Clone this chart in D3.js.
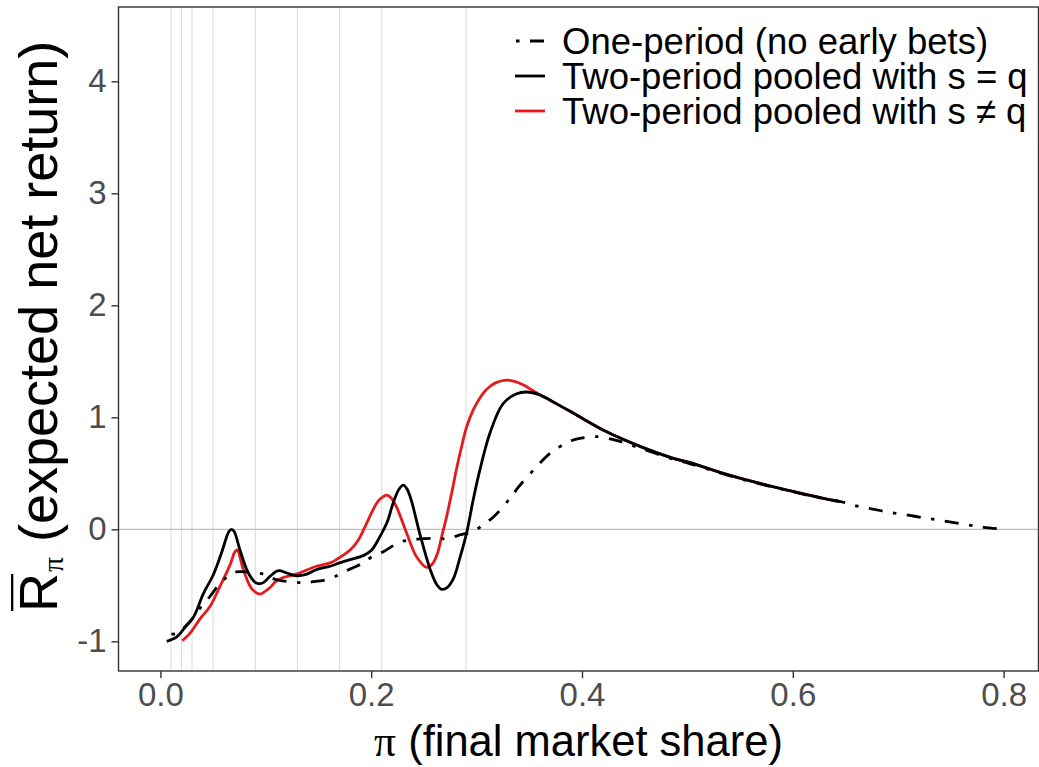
<!DOCTYPE html>
<html>
<head>
<meta charset="utf-8">
<script src="https://cdn.jsdelivr.net/npm/d3@7"></script>
<style>
  html, body { margin: 0; padding: 0; background: #fff; }
  svg { display: block; }
  text { white-space: pre; }
</style>
</head>
<body>
<svg id="chart" width="1039" height="767"></svg>
<script>
// Expected net return against final market share (pi)
const xTicks = [0.0, 0.2, 0.4, 0.6, 0.8];
const xTickLabels = ["0.0", "0.2", "0.4", "0.6", "0.8"];
const yTicks = [-1, 0, 1, 2, 3, 4];
const yTickLabels = ["-1", "0", "1", "2", "3", "4"];
const marketShares = [0.01, 0.02, 0.03, 0.05, 0.09, 0.13, 0.17, 0.21, 0.29];

const seriesNames = [
  "One-period (no early bets)",
  "Two-period pooled with s = q",
  "Two-period pooled with s \u2260 q"
];

// One-period (no early bets)
const onePeriodPi = [0.0105, 0.0155, 0.0233, 0.031, 0.0376, 0.047, 0.055, 0.0613, 0.067, 0.072, 0.082, 0.0976,
  0.110, 0.126, 0.1356, 0.145, 0.155, 0.164, 0.170, 0.180, 0.1925, 0.200, 0.2115, 0.227, 0.237, 0.246, 0.262,
  0.273, 0.284, 0.297, 0.306, 0.316, 0.332, 0.340, 0.357, 0.370, 0.3855, 0.3965, 0.41, 0.417, 0.43, 0.436,
  0.455, 0.4866, 0.5025, 0.534, 0.566, 0.597, 0.629, 0.646, 0.66, 0.672, 0.690, 0.708, 0.728, 0.744, 0.764,
  0.781, 0.800];
const onePeriodR = [-0.935, -0.93, -0.87, -0.79, -0.705, -0.60, -0.50, -0.44, -0.40, -0.38, -0.38, -0.40,
  -0.45, -0.47, -0.477, -0.468, -0.455, -0.43, -0.40, -0.355, -0.30, -0.25, -0.20, -0.115, -0.095, -0.085, -0.08,
  -0.085, -0.05, -0.02, 0.04, 0.11, 0.28, 0.38, 0.56, 0.68, 0.773, 0.81, 0.825, 0.827, 0.80, 0.785,
  0.725, 0.625, 0.585, 0.495, 0.412, 0.342, 0.274, 0.246, 0.21, 0.187, 0.155, 0.128, 0.097, 0.074, 0.042,
  0.018, 0.0];

// Two-period pooled with s = q
const pooledEqPi = [0.006, 0.0155, 0.023, 0.031, 0.041, 0.050, 0.058, 0.065, 0.0675, 0.070, 0.0755, 0.0834,
  0.091, 0.097, 0.104, 0.112, 0.120, 0.129, 0.139, 0.148, 0.161, 0.170, 0.180, 0.1925, 0.200, 0.208, 0.215,
  0.221, 0.2265, 0.2305, 0.234, 0.238, 0.246, 0.256, 0.262, 0.267, 0.272, 0.278, 0.284, 0.2906, 0.2965,
  0.3016, 0.3127, 0.325, 0.338, 0.3475, 0.36, 0.376, 0.392, 0.4234, 0.455, 0.4866, 0.5025, 0.534, 0.566,
  0.597, 0.629, 0.645];
const pooledEqR = [-1.0, -0.96, -0.88, -0.79, -0.57, -0.41, -0.21, -0.02, 0.0, -0.02, -0.185, -0.39,
  -0.48, -0.48, -0.42, -0.37, -0.39, -0.415, -0.40, -0.36, -0.33, -0.30, -0.27, -0.235, -0.19, -0.07, 0.06,
  0.24, 0.36, 0.395, 0.36, 0.26, -0.036, -0.36, -0.49, -0.536, -0.52, -0.44, -0.26, -0.03, 0.25,
  0.47, 0.86, 1.12, 1.21, 1.226, 1.2, 1.12, 1.036, 0.87, 0.74, 0.634, 0.595, 0.50, 0.416,
  0.345, 0.276, 0.246];

// Two-period pooled with s != q
const pooledNePi = [0.0208, 0.028, 0.0376, 0.047, 0.0565, 0.066, 0.0708, 0.073, 0.0755, 0.0787, 0.0866,
  0.0945, 0.100, 0.104, 0.110, 0.1166, 0.129, 0.148, 0.161, 0.167, 0.180, 0.1875, 0.194, 0.2005, 0.205,
  0.2084, 0.2147, 0.219, 0.224, 0.2337, 0.243, 0.2527, 0.258, 0.2627, 0.267, 0.2717, 0.2765, 0.281, 0.2858,
  0.2906, 0.297, 0.303, 0.308, 0.3127, 0.319, 0.3286, 0.336, 0.344, 0.36, 0.376, 0.392, 0.4234, 0.455, 0.4866,
  0.5025, 0.534, 0.566, 0.597, 0.629, 0.645];
const pooledNeR = [-0.995, -0.93, -0.80, -0.69, -0.51, -0.32, -0.20, -0.185, -0.25, -0.36, -0.53,
  -0.578, -0.55, -0.52, -0.46, -0.43, -0.40, -0.33, -0.30, -0.27, -0.185, -0.10, 0.02, 0.15, 0.23,
  0.27, 0.306, 0.28, 0.2, -0.036, -0.245, -0.34, -0.31, -0.22, -0.06, 0.12, 0.33, 0.54, 0.74,
  0.916, 1.07, 1.17, 1.235, 1.275, 1.312, 1.332, 1.32, 1.29, 1.2, 1.12, 1.036, 0.87, 0.74, 0.634,
  0.595, 0.50, 0.416, 0.345, 0.276, 0.246];

const W = 1039, H = 767;
const panel = { left: 118.5, right: 1038.5, top: 7, bottom: 671 };

const x = d3.scaleLinear().domain([-0.03975, 0.8331]).range([panel.left, panel.right]);
const y = d3.scaleLinear().domain([-1.2652, 4.6634]).range([panel.bottom, panel.top]);

const svg = d3.select("#chart");
const FONT = "'Liberation Sans', Arial, Helvetica, sans-serif";
const SERIF = "'Liberation Serif', 'DejaVu Serif', serif";

svg.append("rect").attr("width", W).attr("height", H).attr("fill", "#fff");

svg.append("clipPath").attr("id", "panel-clip")
  .append("rect")
  .attr("x", panel.left).attr("y", panel.top)
  .attr("width", panel.right - panel.left).attr("height", panel.bottom - panel.top);

const plot = svg.append("g").attr("clip-path", "url(#panel-clip)");

// reference market shares
plot.selectAll("line.vref").data(marketShares).join("line")
  .attr("class", "vref")
  .attr("x1", d => x(d)).attr("x2", d => x(d))
  .attr("y1", panel.top).attr("y2", panel.bottom)
  .attr("stroke", "#dcdcdc").attr("stroke-width", 1.1);

// break-even line
plot.append("line")
  .attr("x1", panel.left).attr("x2", panel.right)
  .attr("y1", y(0)).attr("y2", y(0))
  .attr("stroke", "#bebebe").attr("stroke-width", 1.3);

const zipSeries = (xs, ys) => xs.map((v, i) => [v, ys[i]]);
const line = d3.line().x(d => x(d[0])).y(d => y(d[1])).curve(d3.curveCatmullRom.alpha(0.5));

const LW = 2.8;
const DOTDASH = "3.5,10.5,14,10.5";

plot.append("path").datum(zipSeries(pooledNePi, pooledNeR))
  .attr("d", line).attr("fill", "none")
  .attr("stroke", "#e41a1c").attr("stroke-width", LW).attr("stroke-linejoin", "round");

plot.append("path").datum(zipSeries(pooledEqPi, pooledEqR))
  .attr("d", line).attr("fill", "none")
  .attr("stroke", "#000").attr("stroke-width", LW).attr("stroke-linejoin", "round");

plot.append("path").datum(zipSeries(onePeriodPi, onePeriodR))
  .attr("d", line).attr("fill", "none")
  .attr("stroke", "#000").attr("stroke-width", LW)
  .attr("stroke-dasharray", DOTDASH);

// panel border
svg.append("rect")
  .attr("x", panel.left).attr("y", panel.top)
  .attr("width", panel.right - panel.left).attr("height", panel.bottom - panel.top)
  .attr("fill", "none").attr("stroke", "#333").attr("stroke-width", 1.4);

// axes
const xAxis = d3.axisBottom(x).tickValues(xTicks)
  .tickFormat((d, i) => xTickLabels[i]).tickSize(7).tickPadding(5);
const gx = svg.append("g").attr("transform", `translate(0,${panel.bottom})`).call(xAxis);
gx.select(".domain").remove();
gx.selectAll(".tick line").attr("stroke", "#333").attr("stroke-width", 1.4);
gx.selectAll(".tick text").attr("fill", "#4d4d4d")
  .style("font-family", FONT).style("font-size", "33px");

const yAxis = d3.axisLeft(y).tickValues(yTicks)
  .tickFormat((d, i) => yTickLabels[i]).tickSize(7).tickPadding(5);
const gy = svg.append("g").attr("transform", `translate(${panel.left},0)`).call(yAxis);
gy.select(".domain").remove();
gy.selectAll(".tick line").attr("stroke", "#333").attr("stroke-width", 1.4);
gy.selectAll(".tick text").attr("fill", "#4d4d4d")
  .style("font-family", FONT).style("font-size", "33px");

// x axis title
const xt = svg.append("text")
  .attr("x", (panel.left + panel.right) / 2).attr("y", 756)
  .attr("text-anchor", "middle")
  .style("font-family", FONT).style("font-size", "43.5px").attr("fill", "#000");
xt.append("tspan").style("font-family", SERIF).text("\u03c0");
xt.append("tspan").text(" (final market share)");

// y axis title: R with overbar, subscript pi, then description
const TS = 54;
const yt = svg.append("g")
  .attr("transform", "translate(57,612) rotate(-90)");
const rText = yt.append("text").attr("x", 0).attr("y", 0)
  .style("font-family", FONT).style("font-size", TS + "px").text("R");
const rW = rText.node().getComputedTextLength();
const piText = yt.append("text").attr("x", rW + 1).attr("y", TS * 0.12)
  .style("font-family", SERIF).style("font-size", (TS * 0.55) + "px").text("\u03c0");
const piW = piText.node().getComputedTextLength();
yt.append("text").attr("x", rW + piW + 1).attr("y", 0)
  .style("font-family", FONT).style("font-size", TS + "px").text("\u00a0(expected net return)");
yt.append("line")
  .attr("x1", 1).attr("x2", rW - 1)
  .attr("y1", -TS * 0.83).attr("y2", -TS * 0.83)
  .attr("stroke", "#000").attr("stroke-width", 2.3);

// legend
const legend = svg.append("g");
const keyX0 = 515, keyX1 = 545, textX = 562;
const rowY = [41, 76, 111];
const keyStyles = [
  { color: "#000", dash: "3.5,10.5,14,10.5" },
  { color: "#000", dash: null },
  { color: "#e41a1c", dash: null }
];
seriesNames.forEach((name, i) => {
  const k = legend.append("line")
    .attr("x1", keyX0).attr("x2", keyX1)
    .attr("y1", rowY[i]).attr("y2", rowY[i])
    .attr("stroke", keyStyles[i].color).attr("stroke-width", LW);
  if (keyStyles[i].dash) k.attr("stroke-dasharray", keyStyles[i].dash).attr("stroke-dashoffset", -1);
  legend.append("text")
    .attr("x", textX).attr("y", rowY[i] + 13)
    .style("font-family", FONT).style("font-size", "36.5px").attr("fill", "#000")
    .text(name);
});
</script>
</body>
</html>
